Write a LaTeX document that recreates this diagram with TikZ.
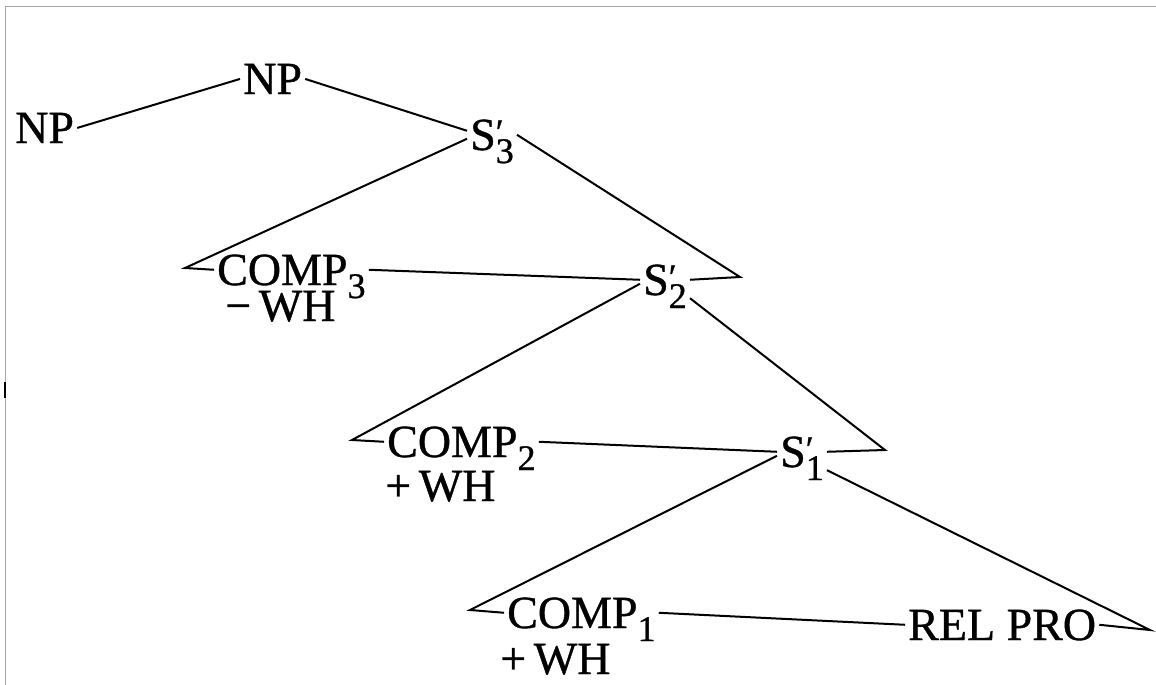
\documentclass[tikz,border=0pt]{standalone}
\usepackage{fontspec}
\setmainfont{Liberation Serif}[FakeBold=0.8]
\newcommand{\subx}[1]{\raisebox{-13pt}{\fontsize{36}{36}\selectfont #1}}
\newcommand{\Sp}[1]{S\rlap{\raisebox{6pt}{\fontsize{36}{36}\selectfont ′}}\subx{#1}}
\begin{document}
\begin{tikzpicture}[x=1pt,y=-1pt,
  every node/.style={inner sep=3pt, font=\fontsize{46}{50}\selectfont},
  lab/.style={anchor=base west, text depth=0pt},
  edge/.style={draw=black, line width=2pt, line join=miter},
  frame/.style={draw=black!35, line width=1pt}]
\useasboundingbox (0,0) rectangle (1156,685);
\draw[frame] (5,685) -- (5,7) -- (1156,7);
\draw[line width=1.6pt] (5,382) -- (5,398);

% nodes
\node[lab] (np1) at (12,143) {NP};
\node[lab] (np2) at (240,94) {NP};
\node[lab] (s3) at (467,150) {\Sp{3}};
\node[lab] (comp3) at (214,285) {COMP\subx{3}};
\node[lab] (wh3) at (222,321) {−\,WH};
\node[lab] (s2) at (640,295) {\Sp{2}};
\node[lab] (comp2) at (384,457) {COMP\subx{2}};
\node[lab] (wh2) at (382,501) {+\,WH};
\node[lab] (s1) at (777,467) {\Sp{1}};
\node[lab] (comp1) at (504,628) {COMP\subx{1}};
\node[lab] (wh1) at (497,674) {+\,WH};
\node[lab] (rel) at (905,640) {REL PRO};

% tips
\coordinate (t3l) at (185,268);
\coordinate (t3r) at (740,277);
\coordinate (t2l) at (352,440);
\coordinate (t2r) at (885,450);
\coordinate (t1l) at (470,610);
\coordinate (t1r) at (1150,630);

% connectors
\draw[edge] (np1.east) -- (np2.west);
\draw[edge] (np2.east) -- ([yshift=4pt]s3.west);
\draw[edge] ([yshift=-4pt]s3.west) -- (t3l) -- (comp3.west);
\draw[edge] (s3.east) -- (t3r) -- (s2.east);
\draw[edge] (comp3.east) -- (s2.west);
\draw[edge] ([yshift=-4pt]s2.west) -- (t2l) -- (comp2.west);
\draw[edge] (s2.south east) -- (t2r) -- (s1.east);
\draw[edge] (comp2.east) -- (s1.west);
\draw[edge] ([yshift=-4pt]s1.west) -- (t1l) -- (comp1.west);
\draw[edge] (s1.south east) -- (t1r) -- (rel.east);
\draw[edge] (comp1.east) -- (rel.west);
\end{tikzpicture}
\end{document}
